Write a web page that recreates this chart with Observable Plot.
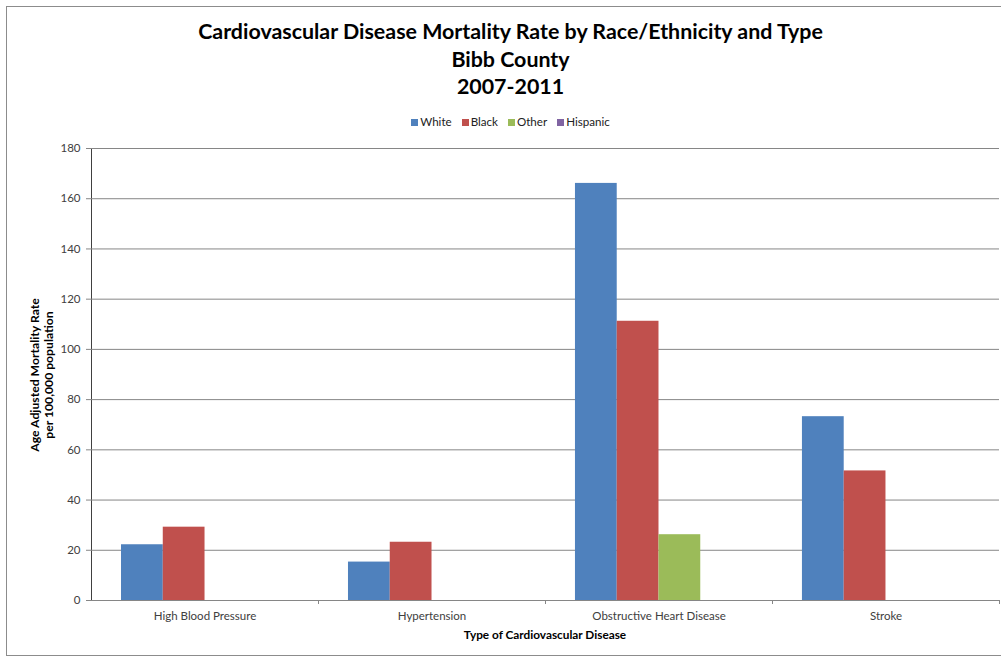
<!DOCTYPE html>
<html>
<head>
<meta charset="utf-8">
<script src="https://cdn.jsdelivr.net/npm/d3@7"></script>
<script src="https://cdn.jsdelivr.net/npm/@observablehq/plot@0.6"></script>
<style>
  body { margin: 0; background: #fff; }
  #wrap { position: relative; width: 1001px; height: 660px; overflow: hidden; font-family: Lato, "Open Sans", Arial, sans-serif; }
  #border { position: absolute; left: 6px; top: 6px; width: 996px; height: 650px; border: 1px solid #8c8c8c; box-sizing: border-box; }
  #title { position: absolute; left: 0; width: 1021px; top: 18px; text-align: center; font-weight: bold; font-size: 21.4px; line-height: 27.5px; color: #000; }
  #legend { position: absolute; left: 0; width: 1021px; top: 115px; text-align: center; font-size: 11.6px; color: #222; }
  #legend span.item { margin: 0 5px; }
  #legend span.sw { display: inline-block; width: 7px; height: 7px; margin-right: 2px; }
  #ylabel { position: absolute; left: 42px; top: 375px; transform: translate(-50%, -50%) rotate(-90deg); text-align: center; font-weight: bold; font-size: 12.2px; line-height: 14px; white-space: nowrap; color: #000; }
  #xlabel { position: absolute; left: 545px; top: 627px; transform: translateX(-50%); font-weight: bold; font-size: 11.8px; white-space: nowrap; color: #000; }
  .layer { position: absolute; left: 0; top: 0; }
  .layer svg { background: transparent !important; }
  #bg g[aria-label*="axis"] path, #bg g[aria-label*="axis"] line { stroke: #868686; }
</style>
</head>
<body>
<div id="wrap">
  <div id="border"></div>
  <div id="title">Cardiovascular Disease Mortality Rate by Race/Ethnicity and Type<br>Bibb County<br>2007-2011</div>
  <div id="legend"></div>
  <div id="bg" class="layer"></div>
  <div id="fg" class="layer"></div>
  <div id="ylabel">Age Adjusted Mortality Rate<br>per 100,000 population</div>
  <div id="xlabel">Type of Cardiovascular Disease</div>
</div>
<script>
const categories = ["High Blood Pressure", "Hypertension", "Obstructive Heart Disease", "Stroke"];
const series = ["White", "Black", "Other", "Hispanic"];
const colors = ["#4F81BD", "#C0504D", "#9BBB59", "#8064A2"];
const white = [22.2, 15.3, 166.1, 73.2];
const black = [29.2, 23.2, 111.2, 51.6];
const other = [null, null, 26.2, null];
const hispanic = [null, null, null, null];
const yTicks = [0, 20, 40, 60, 80, 100, 120, 140, 160, 180];

const valuesBySeries = [white, black, other, hispanic];
const rows = [];
categories.forEach((c, i) => {
  series.forEach((s, j) => {
    const v = valuesBySeries[j][i];
    if (v != null) rows.push({category: c, series: s, value: v});
  });
});

// legend
const legend = document.getElementById("legend");
series.forEach((s, j) => {
  const item = document.createElement("span");
  item.className = "item";
  item.innerHTML = `<span class="sw" style="background:${colors[j]}"></span>${s}`;
  legend.appendChild(item);
});

const font = 'Lato, "Open Sans", Arial, sans-serif';
const W = 1001, H = 660, mL = 91, mR = 2;
const halfBand = (W - mL - mR) / categories.length / 2;

// background: grid, axes, category labels
const bg = Plot.plot({
  width: W,
  height: H,
  marginTop: 148,
  marginBottom: 60,
  marginLeft: mL,
  marginRight: mR,
  style: {fontFamily: font, fontSize: "11.5px", color: "#404040", background: "transparent"},
  x: {type: "band", domain: categories, padding: 0, round: false, tickSize: 0, tickPadding: 11, label: null},
  y: {domain: [0, 180], ticks: yTicks, tickSize: 5, tickPadding: 6, label: null, line: true},
  marks: [
    Plot.ruleY(yTicks.slice(1), {stroke: "#868686", strokeWidth: 1}),
    Plot.ruleX(categories, {x: d => d, y1: 0, y2: -1.6, dx: halfBand, stroke: "#868686"}),
    Plot.ruleY([0], {stroke: "#868686", strokeWidth: 1})
  ]
});
document.getElementById("bg").appendChild(bg);

// foreground: grouped bars
const fg = Plot.plot({
  width: W,
  height: H,
  marginTop: 148,
  marginBottom: 60,
  marginLeft: 121,
  marginRight: 32,
  style: {fontFamily: font, fontSize: "11px", background: "transparent"},
  facet: {data: rows, x: "category"},
  fx: {domain: categories, paddingInner: 0.264, paddingOuter: 0, round: false, axis: null, label: null},
  x: {domain: series, padding: 0, round: false, axis: null},
  y: {domain: [0, 180], axis: null},
  color: {domain: series, range: colors},
  marks: [
    Plot.barY(rows, {x: "series", y: "value", fill: "series"})
  ]
});
document.getElementById("fg").appendChild(fg);
</script>
</body>
</html>
